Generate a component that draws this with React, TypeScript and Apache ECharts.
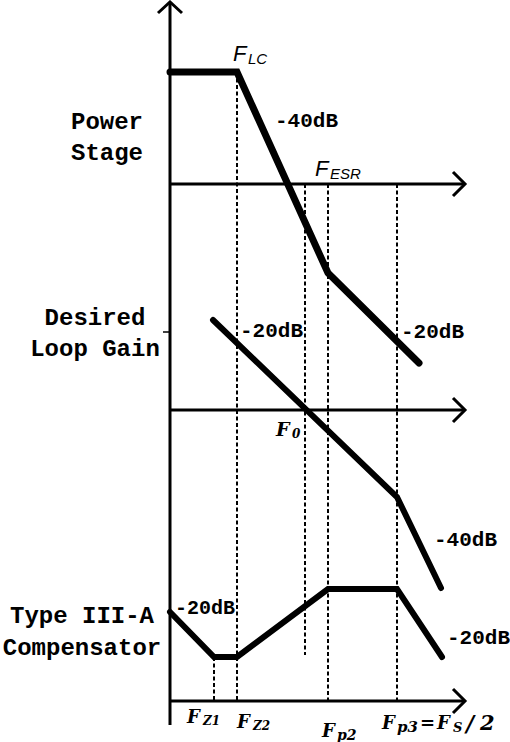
import React, { useEffect, useRef } from "react";
import * as echarts from "echarts";

// ---- frequencies (distance to the right of the gain axis) ----
const F_Z1 = 44;
const F_LC = 67;
const F_Z2 = 67;
const F_0 = 135;
const F_ESR = 158;
const F_P2 = 158;
const F_P3 = 227;

// ---- Power stage curve (gain relative to its own 0 dB axis) ----
const powerFreq = [0, F_LC, F_ESR, 249];
const powerGain = [112, 112, -89, -179];

// ---- Desired loop gain ----
const loopFreq = [43, F_P3, 271];
const loopGain = [90, -87, -178];

// ---- Type III-A compensator ----
const compFreq = [0, F_Z1, F_Z2, F_P2, F_P3, 272];
const compGain = [89, 44, 44, 112, 112, 44];

// ---- dashed frequency markers (global heights, 0 = compensator axis) ----
const markerFreq = [F_Z1, F_LC, F_0, F_ESR, F_P3];
const markerTop = [44, 629, 517, 517, 517];
const markerBottom = [0, 0, 46, 0, 0];

// ---- slope labels ----
const slopeLabels = ["-40dB", "-20dB", "-20dB", "-40dB", "-20dB", "-20dB"];

// layout constants
const POWER_BASE = 517;
const LOOP_BASE = 291;
const COMP_BASE = 0;
const AXIS_END = 295;
const AXIS_TOP = 699;
const AXIS_BOTTOM = -24;
const ARW = 12;

const MONO = "'Liberation Mono', 'DejaVu Sans Mono', monospace";
const SANS = "'Liberation Sans', Arial, sans-serif";
const SERIF = "'DejaVu Serif', serif";

function seg(points: number[][], width: number, extra: any = {}, z = 2) {
  return {
    type: "line",
    data: points,
    symbol: "none",
    showSymbol: false,
    silent: true,
    clip: false,
    animation: false,
    z,
    lineStyle: { color: "#000", width, ...extra },
  };
}

function curve(freq: number[], gain: number[], base: number) {
  return freq.map((f, i) => [f, gain[i] + base]);
}

function txt(text: string, x: number, y: number, o: any) {
  return {
    type: "text",
    x,
    y,
    z: 100,
    silent: true,
    style: {
      text,
      fill: "#000",
      fontFamily: o.family || MONO,
      fontSize: o.size,
      fontWeight: o.weight || "normal",
      fontStyle: o.style || "normal",
      align: o.align || "left",
      textAlign: o.align || "left",
      verticalAlign: "middle",
      textVerticalAlign: "middle",
      lineHeight: o.lh,
    },
  };
}

export default function App() {
  const ref = useRef<HTMLDivElement>(null);
  useEffect(() => {
    document.body.style.margin = "0";
    const chart = echarts.init(ref.current!, null, { renderer: "svg" });
    const series: any[] = [];

    // axes
    series.push(seg([[0, AXIS_BOTTOM], [0, AXIS_TOP]], 3));
    series.push(seg([[-ARW, AXIS_TOP - 11], [0, AXIS_TOP], [ARW, AXIS_TOP - 11]], 3, { join: "miter" }));
    series.push(seg([[-7, 369], [0, 369]], 1.5));
    [POWER_BASE, LOOP_BASE, COMP_BASE].forEach((b) => {
      series.push(seg([[0, b], [AXIS_END, b]], 3));
      series.push(seg([[AXIS_END - ARW, b + ARW], [AXIS_END, b], [AXIS_END - ARW, b - ARW]], 3, { join: "miter" }));
    });

    // dashed markers
    markerFreq.forEach((f, i) => {
      series.push(seg([[f, markerTop[i]], [f, markerBottom[i]]], 2, { type: [4, 2.5] }, 1));
    });

    // curves
    series.push(seg(curve(powerFreq, powerGain, POWER_BASE), 7, { cap: "round", join: "miter" }, 5));
    series.push(seg(curve(loopFreq, loopGain, LOOP_BASE), 6, { cap: "round", join: "miter" }, 5));
    series.push(seg(curve(compFreq, compGain, COMP_BASE), 6, { cap: "round", join: "miter" }, 5));

    const B = { weight: "bold" };
    const BI = { weight: "bold", style: "italic", family: SERIF };
    const slopePos = [
      [275, 121, 21],
      [240, 331, 21],
      [401, 332, 21],
      [434, 540, 21],
      [175, 608, 20],
      [447, 638, 21],
    ];
    const graphics: any[] = [
      txt("Power\nStage", 107, 138, { ...B, size: 24, align: "center", lh: 31 }),
      txt("Desired\nLoop Gain", 95, 334, { ...B, size: 24, align: "center", lh: 31 }),
      txt("Type III-A\nCompensator", 82, 632, { ...B, size: 24, align: "center", lh: 32 }),
      ...slopeLabels.map((s, i) => txt(s, slopePos[i][0], slopePos[i][1], { ...B, size: slopePos[i][2] })),
      // italic sans labels
      txt("F", 233, 53, { family: SANS, style: "italic", size: 22 }),
      txt("LC", 248, 58.5, { family: SANS, style: "italic", size: 15 }),
      txt("F", 315, 168, { family: SANS, style: "italic", size: 22 }),
      txt("ESR", 330, 173.5, { family: SANS, style: "italic", size: 15 }),
      // bold italic labels
      txt("F", 276, 429, { ...BI, size: 19 }),
      txt("0", 292, 434, { ...BI, size: 12 }),
      txt("F", 187, 716, { ...BI, size: 18 }),
      txt("Z1", 203, 721, { ...BI, size: 12 }),
      txt("F", 237, 721, { ...BI, size: 18 }),
      txt("Z2", 253, 726, { ...BI, size: 12 }),
      txt("F", 322, 730, { ...BI, size: 18 }),
      txt("p2", 337, 735, { ...BI, size: 14 }),
      txt("F", 382, 722.5, { ...BI, size: 18 }),
      txt("p3", 397, 727, { ...BI, size: 15 }),
      txt("=", 420, 722.5, { ...BI, size: 18 }),
      txt("F", 437, 722.5, { ...BI, size: 18 }),
      txt("S", 453, 727, { ...BI, size: 13 }),
      txt("/", 466, 722.5, { ...BI, size: 22 }),
      txt("2", 480, 722.5, { ...BI, size: 21 }),
    ];

    chart.setOption({
      animation: false,
      backgroundColor: "#fff",
      grid: { left: 0, right: 0, top: 0, bottom: 0, containLabel: false },
      xAxis: { type: "value", min: -170, max: 340, show: false },
      yAxis: { type: "value", min: -41, max: 701, show: false },
      series,
      graphic: graphics,
    });
    return () => chart.dispose();
  }, []);
  return <div ref={ref} style={{ width: 510, height: 742 }} />;
}
